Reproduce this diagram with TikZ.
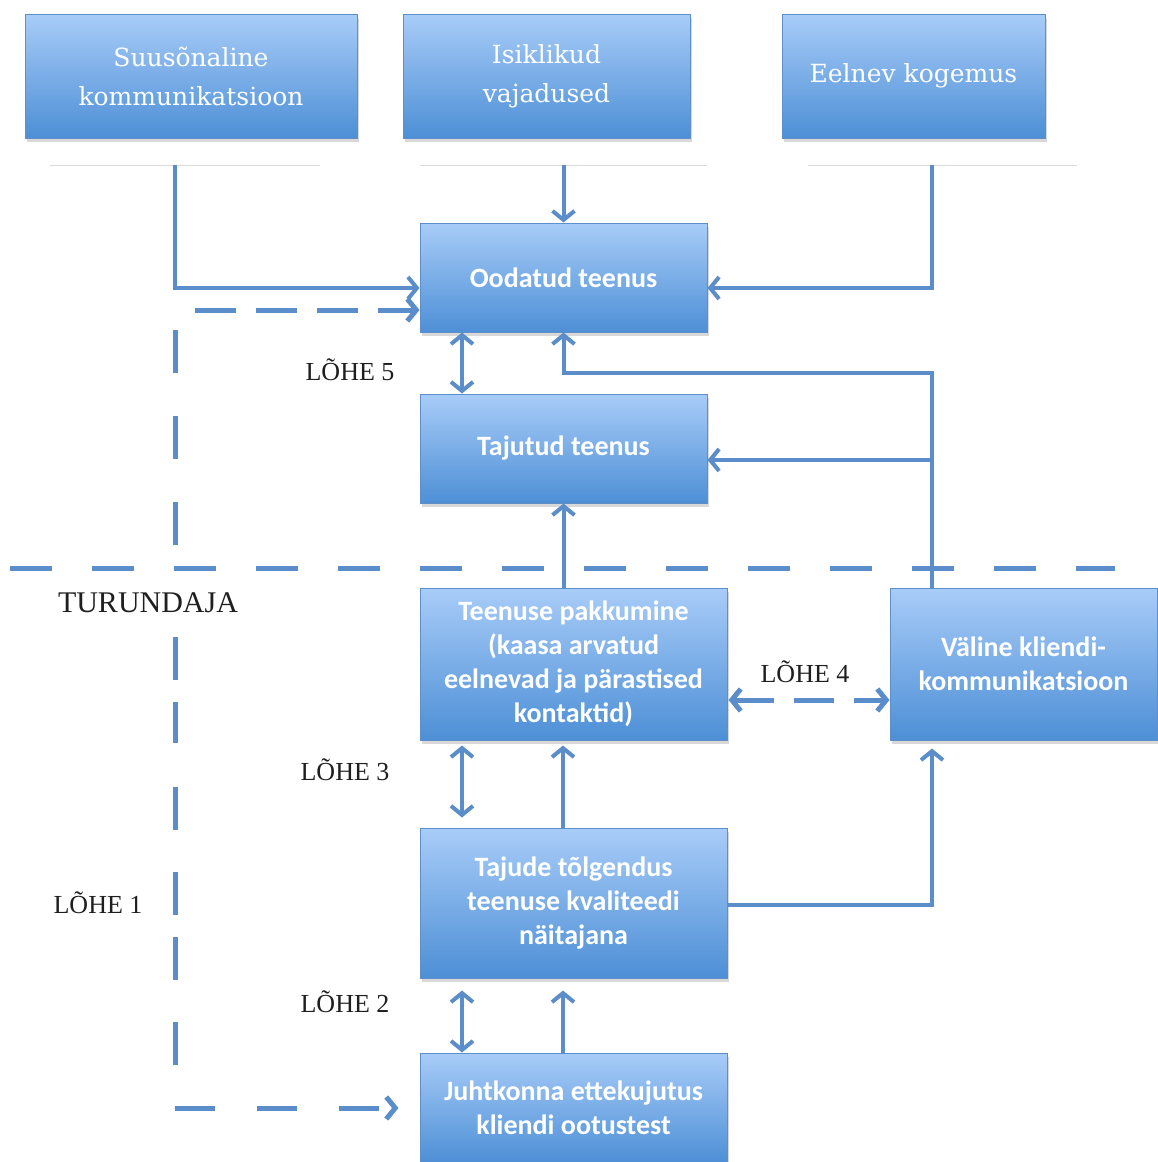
\documentclass[tikz,border=0pt]{standalone}
\usepackage{fontspec}
\setmainfont{Liberation Serif}
\newfontfamily\boxserif{DejaVu Serif}
\newfontfamily\boxsans{Carlito}
\usetikzlibrary{arrows.meta,shadows,calc}
\definecolor{lineblue}{HTML}{5A8DCA}
\definecolor{boxtop}{HTML}{A8CCF8}
\definecolor{boxbot}{HTML}{4D8FD6}
\definecolor{boxedge}{HTML}{5F8FCB}
\begin{document}
\begin{tikzpicture}[x=1pt,y=-1pt,
  box/.style={draw=boxedge, line width=1pt, top color=boxtop, bottom color=boxbot,
    text=white, align=center, inner sep=0pt,
    drop shadow={shadow xshift=1.5pt, shadow yshift=-3.5pt, opacity=0.3}},
  serifbox/.style={box, font=\boxserif\fontsize{25}{39}\selectfont},
  sansbox/.style={box, font=\boxsans\bfseries\fontsize{28}{34}\selectfont},
  tipb/.tip={Straight Barb[length=9pt,width=22pt]},
  conn/.style={draw=lineblue, line width=4pt, -tipb},
  dconn/.style={draw=lineblue, line width=4pt, tipb-tipb},
  sep/.style={draw=lineblue, line width=5pt, dash pattern=on 42pt off 40pt},
  gapseg/.style={draw=lineblue, line width=5pt},
  lab/.style={font=\fontsize{26}{30}\selectfont, text=black!88, inner sep=0pt},
  thin/.style={draw=black!15, line width=1pt}
]
\fill[white] (0,0) rectangle (1158,1162);
\useasboundingbox (0,0) rectangle (1158,1162);

% boxes
\node[serifbox, minimum width=332pt, minimum height=124pt] (A) at (191,76) {Suusõnaline\\kommunikatsioon};
\node[serifbox, minimum width=287pt, minimum height=124pt] (B) at (546.5,76) {Isiklikud\\vajadused};
\node[serifbox, minimum width=263pt, minimum height=124pt] (C) at (913.5,76) {Eelnev kogemus};
\node[sansbox, minimum width=287pt, minimum height=109pt] (O) at (563.5,277.5) {Oodatud teenus};
\node[sansbox, minimum width=287pt, minimum height=109pt] (T) at (563.5,448.5) {Tajutud teenus};
\node[sansbox, minimum width=307pt, minimum height=152pt] (P) at (573.5,664) {Teenuse pakkumine\\(kaasa arvatud\\eelnevad ja pärastised\\kontaktid)};
\node[sansbox, minimum width=267pt, minimum height=152pt] (V) at (1023.5,664) {Väline kliendi-\\kommunikatsioon};
\node[sansbox, minimum width=307pt, minimum height=150pt] (Q) at (573.5,903) {Tajude tõlgendus\\teenuse kvaliteedi\\näitajana};
\node[sansbox, minimum width=307pt, minimum height=110pt] (J) at (573.5,1108) {Juhtkonna ettekujutus\\kliendi ootustest};

% thin grey lines under top boxes
\draw[thin] (50,165) -- (320,165);
\draw[thin] (420,165) -- (707,165);
\draw[thin] (808,165) -- (1077,165);

\coordinate (a0) at (175,165);
\coordinate (b0) at (563.5,165);
\coordinate (c0) at (932,165);

% separator
\draw[sep] (10,568) -- (1115,568);

% connectors
\draw[conn] (a0) |- ([yshift=-10.5pt]O.west);
\draw[conn] (b0) -- (O.north);
\draw[conn] (c0) |- ([yshift=-10.5pt]O.east);
\draw[conn] ([xshift=-91.5pt]V.north) -- (932,373) -| (O.south);
\draw[conn] (932,460) -- ([yshift=-11.5pt]T.east);
\draw[conn] (T.south |- P.north) -- (T.south);
\draw[dconn] ([xshift=-101.5pt]O.south) -- ([xshift=-101.5pt]T.north);
\draw[dconn, shorten <=5pt, shorten >=10pt] ([xshift=-111.5pt]P.south) -- ([xshift=-111.5pt]Q.north);
\draw[conn, shorten >=5pt] ([xshift=-10.5pt]Q.north) -- ([xshift=-10.5pt]P.south);
\draw[dconn, shorten <=12pt] ([xshift=-111.5pt]Q.south) -- ([xshift=-111.5pt]J.north);
\draw[conn, shorten >=12pt] ([xshift=-10.5pt]J.north) -- ([xshift=-10.5pt]Q.south);
\draw[conn, shorten >=8pt] ([yshift=-2pt]Q.east) -- (932,905) -- ([xshift=-91.5pt]V.south);

% LOHE 4 (dashed, both ways)
\draw[gapseg, dash pattern=on 40pt off 20pt, tipb-tipb, shorten <=1pt]
  ([yshift=-36pt]P.east) -- ([yshift=-36pt]V.west);

% LOHE 1 (dashed path from Juhtkonna to Oodatud)
\coordinate (g1) at (195,310);
\coordinate (g2) at (175,330);
\coordinate (g3) at (175,546);
\coordinate (g4) at (175,637);
\coordinate (g5) at (175,1065);
\coordinate (g6) at (175,1108);
\draw[gapseg, dash pattern=on 41pt off 20pt, -tipb] (g1) -- ([yshift=-32.5pt]O.west);
\draw[gapseg, dash pattern=on 43pt off 43pt] (g2) -- (g3);
\draw[gapseg, dash pattern=on 43pt off 22pt on 41pt off 44pt on 43pt off 42pt on 43pt off 22pt on 43pt off 42pt on 43pt off 20pt] (g4) -- (g5);
\draw[gapseg, dash pattern=on 40pt off 42pt, -tipb, shorten >=21pt] (g6) -- (J.west);

% labels
\node[lab] (l5) at (350,370) {LÕHE 5};
\node[lab] (l4) at (805,672) {LÕHE 4};
\node[lab] (l3) at (345,770) {LÕHE 3};
\node[lab] (l2) at (345,1002) {LÕHE 2};
\node[lab] (l1) at (98,903) {LÕHE 1};
\node[lab, font=\fontsize{30}{34}\selectfont] (tu) at (148,603) {TURUNDAJA};
\end{tikzpicture}
\end{document}
